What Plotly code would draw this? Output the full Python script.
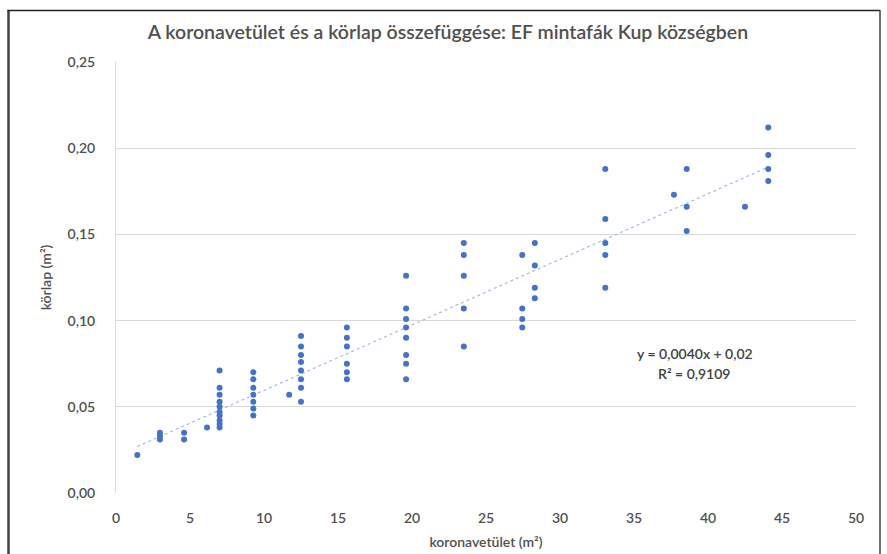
import numpy as np
import plotly.graph_objects as go

# crown projection area (m2) and basal area (m2) of sample trees
x_vals = (
    [1.44]
    + [2.97] * 3
    + [4.6] * 2
    + [6.15]
    + [7.0] * 10
    + [9.28] * 7
    + [11.7]
    + [12.5] * 8
    + [15.6] * 6
    + [19.6] * 8
    + [23.5] * 5
    + [27.45] * 4
    + [28.3] * 4
    + [33.06] * 5
    + [37.7]
    + [38.56] * 3
    + [42.5]
    + [44.07] * 4
)
y_vals = (
    [0.022]
    + [0.035, 0.033, 0.031]
    + [0.035, 0.031]
    + [0.038]
    + [0.071, 0.061, 0.057, 0.053, 0.050, 0.047, 0.045, 0.042, 0.040, 0.038]
    + [0.070, 0.066, 0.061, 0.057, 0.053, 0.049, 0.045]
    + [0.057]
    + [0.091, 0.085, 0.080, 0.076, 0.071, 0.066, 0.061, 0.053]
    + [0.096, 0.090, 0.085, 0.075, 0.070, 0.066]
    + [0.126, 0.107, 0.101, 0.096, 0.090, 0.080, 0.075, 0.066]
    + [0.145, 0.138, 0.126, 0.107, 0.085]
    + [0.138, 0.107, 0.101, 0.096]
    + [0.145, 0.132, 0.119, 0.113]
    + [0.188, 0.159, 0.145, 0.138, 0.119]
    + [0.173]
    + [0.188, 0.166, 0.152]
    + [0.166]
    + [0.212, 0.196, 0.188, 0.181]
)

title_text = "A koronavetület és a körlap összefüggése: EF mintafák Kup községben"
x_title = "koronavetület (m²)"
y_title = "körlap (m²)"
eq_text = "y = 0,0040x + 0,02"
r2_text = "R² = 0,9109"
x_ticks = list(range(0, 51, 5))
y_ticks = [0.0, 0.05, 0.10, 0.15, 0.20, 0.25]

xa = np.array(x_vals)
ya = np.array(y_vals)
slope, intercept = np.polyfit(xa, ya, 1)
tx = np.array([xa.min(), xa.max()])
ty = slope * tx + intercept

grey = "#505050"
font_family = "Lato, 'Open Sans', sans-serif"

fig = go.Figure()
fig.add_trace(go.Scatter(
    x=tx, y=ty, mode="lines",
    line=dict(color="#9DB5E0", width=1.1, dash="dot"),
    hoverinfo="skip", showlegend=False,
))
fig.add_trace(go.Scatter(
    x=x_vals, y=y_vals, mode="markers",
    marker=dict(color="#4472C4", size=6, line=dict(width=0)),
    showlegend=False,
))

fig.update_layout(
    width=887, height=554,
    margin=dict(l=116, r=31, t=62, b=61, autoexpand=False),
    paper_bgcolor="white", plot_bgcolor="white",
    separators=", ",
    font=dict(family=font_family, color=grey, size=14, weight=600),
    title=dict(text=title_text, x=0.505, xanchor="center", y=1 - 32 / 554, yanchor="middle",
               font=dict(size=19.5, color=grey, family=font_family, weight=600)),
    xaxis=dict(
        range=[0, 50], tickvals=x_ticks, showgrid=False, zeroline=False,
        showline=False, ticks="", tickfont=dict(size=14, color=grey, weight=600),
        ticklabelstandoff=15, automargin=False,
        title=dict(text=x_title, font=dict(size=14, color=grey, weight=600), standoff=12),
    ),
    yaxis=dict(
        range=[0, 0.25], tickvals=y_ticks, tickformat=".2f",
        showgrid=True, gridcolor="#D9D9D9", gridwidth=1,
        zeroline=False, showline=True, linecolor="#D9D9D9", linewidth=1,
        ticks="", tickfont=dict(size=14, color=grey, weight=600), ticklabelstandoff=17,
        automargin=False,
        title=dict(text=y_title, font=dict(size=14, color=grey, weight=600), standoff=12),
    ),
    annotations=[
        dict(text=eq_text, xref="x", yref="y", x=39.1, y=0.0812, showarrow=False,
             font=dict(size=14, color="#404040", weight=600), xanchor="center", yanchor="middle"),
        dict(text=r2_text, xref="x", yref="y", x=39.1, y=0.0692, showarrow=False,
             font=dict(size=14, color="#404040", weight=600), xanchor="center", yanchor="middle"),
    ],
    shapes=[
        dict(type="line", xref="paper", yref="paper",
             x0=(8.5 - 116) / 740, x1=(8.5 - 116) / 740,
             y0=(493 - 10) / 431, y1=(493 - 560) / 431,
             line=dict(color="#404040", width=2.5)),
        dict(type="line", xref="paper", yref="paper",
             x0=(7.5 - 116) / 740, x1=(880 - 116) / 740,
             y0=(493 - 10.5) / 431, y1=(493 - 10.5) / 431,
             line=dict(color="#202020", width=1.5)),
        dict(type="line", xref="paper", yref="paper",
             x0=(880 - 116) / 740, x1=(880 - 116) / 740,
             y0=(493 - 10) / 431, y1=(493 - 560) / 431,
             line=dict(color="#404040", width=1.5)),
    ],
)

fig.write_html("out.html")
